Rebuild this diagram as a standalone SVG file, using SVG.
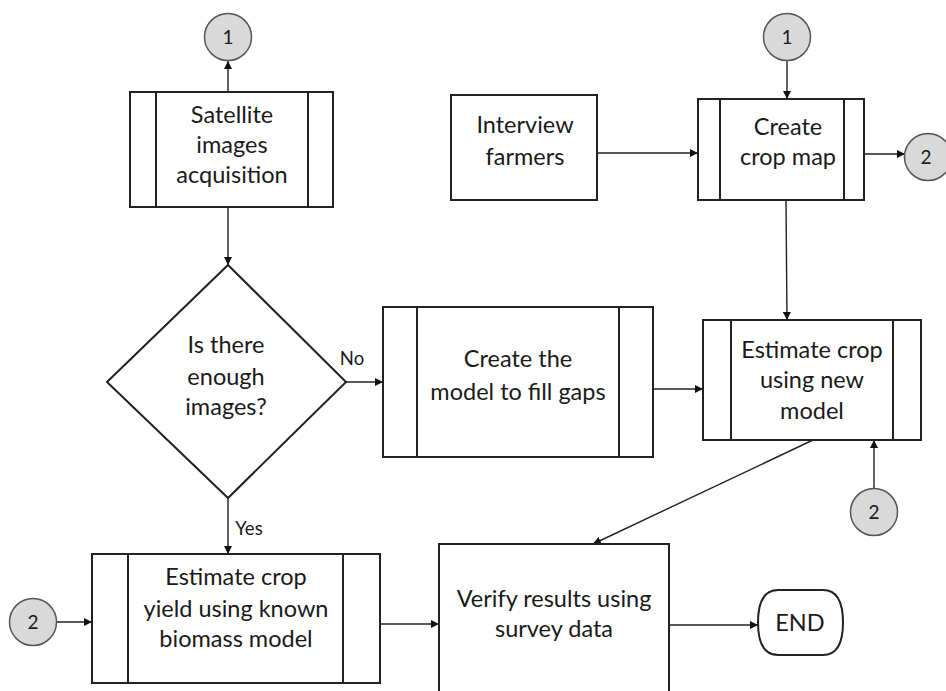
<svg xmlns="http://www.w3.org/2000/svg" width="946" height="691" viewBox="0 0 946 691">
<defs>
<marker id="arr" viewBox="0 0 10 10" refX="10" refY="5" markerWidth="8" markerHeight="8" markerUnits="userSpaceOnUse" orient="auto">
<path d="M0,0 L10,5 L0,10 z" fill="#111"/>
</marker>
<style>
.box{fill:#fff;stroke:#222;stroke-width:2}
.inner{stroke:#222;stroke-width:2;fill:none}
.con{stroke:#222;stroke-width:1.4;fill:none;marker-end:url(#arr)}
.conn{fill:#d9d9d9;stroke:#555;stroke-width:1.5}
text{font-family:Lato,"Liberation Sans",sans-serif;fill:#1a1a1a;text-anchor:middle}
.t{font-size:23.5px}
.s{font-size:18.5px}
.c{font-size:19px}
</style>
</defs>
<rect width="946" height="691" fill="#fff"/>
<g id="connectors">
<line class="con" x1="228" y1="92" x2="228" y2="61"/>
<line class="con" x1="228" y1="207" x2="228" y2="265"/>
<line class="con" x1="346" y1="382" x2="383" y2="382"/>
<line class="con" x1="228" y1="498" x2="228" y2="554"/>
<line class="con" x1="57" y1="622" x2="92" y2="622"/>
<line class="con" x1="380" y1="624" x2="439" y2="624"/>
<line class="con" x1="669" y1="625" x2="758" y2="625"/>
<line class="con" x1="653" y1="389" x2="703" y2="389"/>
<line class="con" x1="874" y1="488" x2="874" y2="440"/>
<line class="con" x1="813" y1="440" x2="593" y2="544"/>
<line class="con" x1="597" y1="153" x2="698" y2="153"/>
<line class="con" x1="787" y1="61" x2="787" y2="99"/>
<line class="con" x1="864" y1="154" x2="905" y2="154"/>
<line class="con" x1="786" y1="200" x2="787" y2="320"/>
<text class="s" x="352" y="365">No</text>
<text class="s" x="249" y="535">Yes</text>
</g>
<g id="c1a"><circle class="conn" cx="228" cy="37" r="23.5"/><text class="c" x="228" y="44">1</text></g>
<g id="c1b"><circle class="conn" cx="787" cy="37" r="23.5"/><text class="c" x="787" y="44">1</text></g>
<g id="c2a"><circle class="conn" cx="928" cy="157" r="23.5"/><text class="c" x="926" y="164">2</text></g>
<g id="c2b"><circle class="conn" cx="874" cy="512" r="23.5"/><text class="c" x="874" y="519">2</text></g>
<g id="c2c"><circle class="conn" cx="33" cy="622" r="23.5"/><text class="c" x="33" y="629">2</text></g>
<g id="satellite">
<rect class="box" x="130" y="92" width="203" height="115"/>
<line class="inner" x1="156" y1="92" x2="156" y2="207"/><line class="inner" x1="308" y1="92" x2="308" y2="207"/>
<text class="t" x="232" y="123">Satellite</text><text class="t" x="232" y="153">images</text><text class="t" x="232" y="183">acquisition</text>
</g>
<g id="interview">
<rect class="box" x="451" y="95" width="146" height="105"/>
<text class="t" x="525" y="133">Interview</text><text class="t" x="525" y="165">farmers</text>
</g>
<g id="cropmap">
<rect class="box" x="698" y="99" width="166" height="101"/>
<line class="inner" x1="720" y1="99" x2="720" y2="200"/><line class="inner" x1="844" y1="99" x2="844" y2="200"/>
<text class="t" x="788" y="135">Create</text><text class="t" x="788" y="165">crop map</text>
</g>
<g id="decision">
<polygon class="box" points="228,265 346,382 228,498 107,382"/>
<text class="t" x="226" y="353">Is there</text><text class="t" x="226" y="385">enough</text><text class="t" x="226" y="415">images?</text>
</g>
<g id="model">
<rect class="box" x="383" y="307" width="270" height="150"/>
<line class="inner" x1="417" y1="307" x2="417" y2="457"/><line class="inner" x1="619" y1="307" x2="619" y2="457"/>
<text class="t" x="518" y="367">Create the</text><text class="t" x="518" y="400">model to fill gaps</text>
</g>
<g id="estimate">
<rect class="box" x="703" y="320" width="218" height="120"/>
<line class="inner" x1="731" y1="320" x2="731" y2="440"/><line class="inner" x1="893" y1="320" x2="893" y2="440"/>
<text class="t" x="812" y="358">Estimate crop</text><text class="t" x="812" y="388">using new</text><text class="t" x="812" y="419">model</text>
</g>
<g id="yield">
<rect class="box" x="92" y="554" width="288" height="129"/>
<line class="inner" x1="128" y1="554" x2="128" y2="683"/><line class="inner" x1="343" y1="554" x2="343" y2="683"/>
<text class="t" x="236" y="585">Estimate crop</text><text class="t" x="236" y="617">yield using known</text><text class="t" x="236" y="647">biomass model</text>
</g>
<g id="verify">
<rect class="box" x="439" y="544" width="230" height="170"/>
<text class="t" x="554" y="607">Verify results using</text><text class="t" x="554" y="637">survey data</text>
</g>
<g id="end">
<path class="box" d="M778,590 H823 Q843,590 843,622.5 Q843,655 823,655 H778 Q758,655 758,622.5 Q758,590 778,590 Z"/>
<text class="t" x="800" y="631">END</text>
</g>
</svg>
